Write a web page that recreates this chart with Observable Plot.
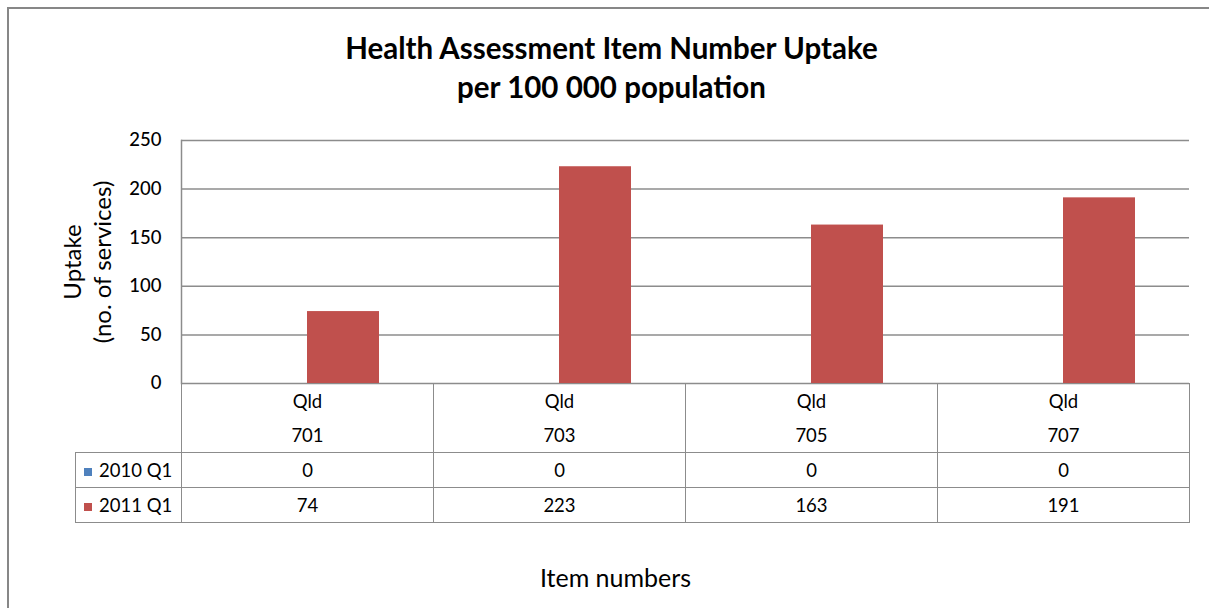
<!DOCTYPE html>
<html>
<head>
<meta charset="utf-8">
<script src="https://cdn.jsdelivr.net/npm/d3@7"></script>
<script src="https://cdn.jsdelivr.net/npm/@observablehq/plot@0.6"></script>
<style>
  html, body { margin: 0; padding: 0; background: #fff; }
  body { width: 1209px; height: 608px; position: relative; overflow: hidden; font-family: Lato, "Open Sans", sans-serif; color: #000; }
  #border { position: absolute; left: 7px; top: 7px; width: 1230px; height: 640px; border: 2px solid #878787; box-sizing: border-box; }
  .title { position: absolute; left: 0; width: 1223px; text-align: center; font-weight: bold; font-size: 29.5px; line-height: 36px; white-space: nowrap; }
  #ytitle { position: absolute; left: 87px; top: 262px; transform: translate(-50%, -50%) rotate(-90deg); text-align: center; font-size: 24px; line-height: 30px; white-space: nowrap; }
  #plot { position: absolute; left: 0; top: 120px; }
  #table { position: absolute; left: 75px; top: 383px; border-collapse: collapse; table-layout: fixed; font-size: 18.5px; }
  #table td { border: 1.5px solid #8c8c8c; text-align: center; padding: 0; }
  #table td.blank { border: none; border-right: 1.5px solid #8c8c8c; }
  #table tr.head td { height: 66px; line-height: 34px; vertical-align: middle; }
  #table tr.row td { height: 34px; }
  #table td.lab { text-align: left; padding-left: 8px; white-space: nowrap; }
  .sw { display: inline-block; width: 8px; height: 8px; margin-right: 7px; vertical-align: 1px; }
  #xtitle { position: absolute; left: 0; width: 1231px; top: 562px; text-align: center; font-size: 25px; line-height: 30px; }
</style>
</head>
<body>
<div id="border"></div>
<div class="title" style="top:30px">Health Assessment Item Number Uptake</div>
<div class="title" style="top:69px">per 100 000 population</div>
<div id="ytitle">Uptake<br>(no. of services)</div>
<div id="plot"></div>
<table id="table"></table>
<div id="xtitle">Item numbers</div>
<script>
const regions = ["Qld", "Qld", "Qld", "Qld"];
const items = ["701", "703", "705", "707"];
const seriesNames = ["2010 Q1", "2011 Q1"];
const values2010 = [0, 0, 0, 0];
const values2011 = [74, 223, 163, 191];
const colors = ["#4F81BD", "#C0504D"];
const yTicks = [0, 50, 100, 150, 200, 250];

const data = [];
items.forEach((it, i) => {
  data.push({item: it, series: seriesNames[0], value: values2010[i]});
  data.push({item: it, series: seriesNames[1], value: values2011[i]});
});

const chart = Plot.plot({
  width: 1209,
  height: 280,
  marginLeft: 181,
  marginRight: 20,
  marginTop: 20,
  marginBottom: 17,
  style: {fontFamily: "Lato, 'Open Sans', sans-serif", fontSize: "18px", color: "#000", background: "transparent"},
  x: {domain: items, padding: 0, axis: null},
  y: {domain: [0, 250], ticks: yTicks, axis: null},
  color: {domain: seriesNames, range: colors},
  marks: [
    Plot.ruleY(yTicks, {stroke: "#8c8c8c", strokeWidth: 1.5}),
    Plot.barY(data.filter(d => d.series === seriesNames[0]), {x: "item", y: "value", fill: "series", insetLeft: 54, insetRight: 126}),
    Plot.barY(data.filter(d => d.series === seriesNames[1]), {x: "item", y: "value", fill: "series", insetLeft: 126, insetRight: 54}),
    Plot.frame({anchor: "left", stroke: "#8c8c8c", strokeWidth: 1.5}),
    Plot.axisY({ticks: yTicks, tickSize: 0, tickPadding: 20, label: null, fontSize: 18.5, fontWeight: 500})
  ]
});
document.getElementById("plot").appendChild(chart);

// data table
const table = d3.select("#table");
const cg = table.append("colgroup");
cg.append("col").style("width", "106px");
items.forEach(() => cg.append("col").style("width", "252px"));
const head = table.append("tr").attr("class", "head");
head.append("td").attr("class", "blank");
items.forEach((it, i) => head.append("td").html(regions[i] + "<br>" + it));
[values2010, values2011].forEach((vals, s) => {
  const tr = table.append("tr").attr("class", "row");
  const lab = tr.append("td").attr("class", "lab");
  lab.append("span").attr("class", "sw").style("background", colors[s]);
  lab.append("span").text(seriesNames[s]);
  vals.forEach(v => tr.append("td").text(v));
});
</script>
</body>
</html>
